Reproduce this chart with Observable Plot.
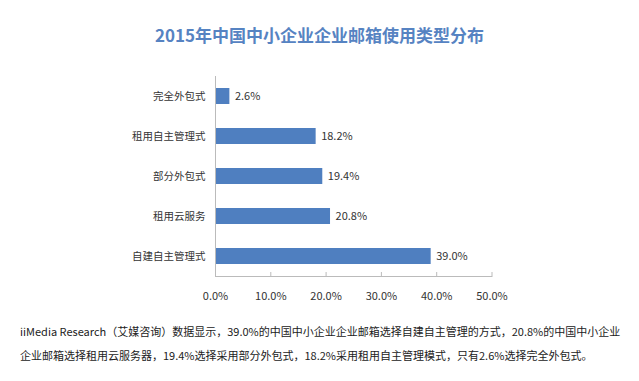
<!DOCTYPE html>
<html><head><meta charset="utf-8">
<script src="https://cdn.jsdelivr.net/npm/d3@7"></script>
<script src="https://cdn.jsdelivr.net/npm/@observablehq/plot@0.6"></script>
<style>
body{margin:0;background:#fff;width:639px;height:381px;overflow:hidden;font-family:"Noto Sans CJK SC","Noto Sans",sans-serif;}
#title{height:60px;line-height:70px;text-align:center;font-size:17px;font-weight:bold;color:#5683C2;}
#chart svg{display:block;}
#caption{padding-left:20px;font-size:11px;line-height:24px;color:#222;white-space:nowrap;margin-top:9px;}
</style></head>
<body>
<div id="title"></div>
<div id="chart"></div>
<div id="caption"></div>
<script>
const titleText = "2015年中国中小企业企业邮箱使用类型分布";
const categories = ["完全外包式","租用自主管理式","部分外包式","租用云服务","自建自主管理式"];
const values = [2.6, 18.2, 19.4, 20.8, 39.0];
const xTicks = [0,10,20,30,40,50];
const captionLines = [
 "iiMedia Research（艾媒咨询）数据显示，39.0%的中国中小企业企业邮箱选择自建自主管理的方式，20.8%的中国中小企业",
 "企业邮箱选择租用云服务器，19.4%选择采用部分外包式，18.2%采用租用自主管理模式，只有2.6%选择完全外包式。"
];
document.getElementById("title").textContent = titleText;
const cap = document.getElementById("caption");
captionLines.forEach((l,i)=>{ if(i) cap.appendChild(document.createElement("br")); cap.appendChild(document.createTextNode(l)); });

const data = categories.map((c,i)=>({cat:c, v:values[i]}));
const font = '"Noto Sans CJK SC","Noto Sans",sans-serif';
const plot = Plot.plot({
  width: 639, height: 250,
  marginLeft: 215, marginRight: 147.5, marginTop: 16, marginBottom: 34,
  style: {fontFamily: font, fontSize: "11px", color: "#333", background: "#fff"},
  x: {domain: [0,50], label: null},
  y: {domain: categories, paddingInner: 0.6, paddingOuter: 0.3, label: null},
  marks: [
    Plot.barX(data, {x: "v", y: "cat", fill: "#4F7FC0"}),
    Plot.text(data, {x: "v", y: "cat", text: d => d.v.toFixed(1) + "%", textAnchor: "start", dx: 5, fill: "#333", fontSize: 11}),
    Plot.ruleX([0], {stroke: "#bbb"}),
    Plot.frame({anchor: "bottom", stroke: "#bbb"}),
    Plot.axisX({ticks: xTicks, tickSize: -4, text: null, stroke: "#bbb"}),
    Plot.axisX({ticks: xTicks, tickFormat: d => d.toFixed(1) + "%", tickSize: 0, tickPadding: 16, fontSize: 11, color: "#333"}),
    Plot.axisY({tickSize: 0, tickPadding: 10, fontSize: 10.5, color: "#333"})
  ]
});
document.getElementById("chart").appendChild(plot);
</script>
</body></html>
